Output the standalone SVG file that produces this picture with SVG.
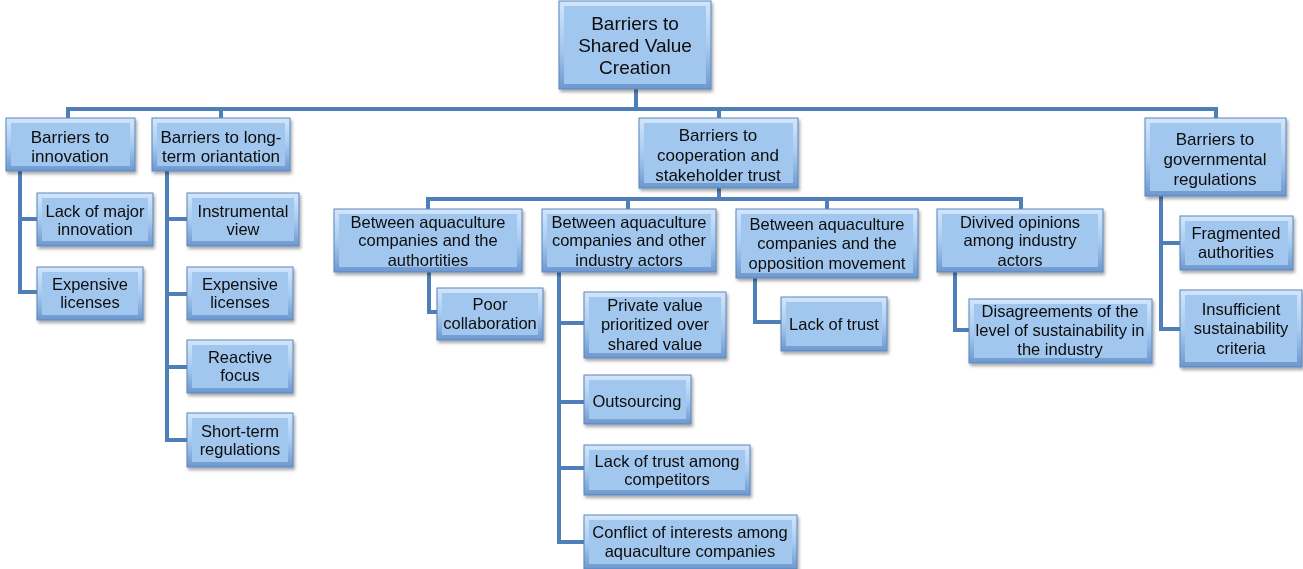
<svg xmlns="http://www.w3.org/2000/svg" width="1303" height="569" viewBox="0 0 1303 569">
<style>
.edge{fill:url(#edgeGrad);stroke:#5a86bd;stroke-width:1}
.face{fill:#a2c7ee}
.n{filter:url(#shadow)}
text{font-family:"Liberation Sans",Arial,sans-serif;fill:#0d0d0d;text-anchor:middle}
.t19{font-size:19px}
.t16{font-size:17px}
.t15{font-size:16.5px}
.conn path{fill:none;stroke:#4f7fb8;stroke-width:4}
</style>
<defs>
<linearGradient id="edgeGrad" x1="0" y1="0" x2="0" y2="1">
<stop offset="0" stop-color="#d3e6fa"/>
<stop offset="0.5" stop-color="#a9cbf0"/>
<stop offset="1" stop-color="#6d98cf"/>
</linearGradient>
<filter id="shadow" x="-10%" y="-10%" width="130%" height="140%">
<feDropShadow dx="1.5" dy="2.5" stdDeviation="1.5" flood-color="#000" flood-opacity="0.35"/>
</filter>
</defs>
<rect width="1303" height="569" fill="#fff"/>
<g class="conn" id="connectors">
<path d="M636,89 V109"/>
<path d="M68,118 V109 H1216 V118"/>
<path d="M221,109 V118"/>
<path d="M719,109 V118"/>
<path d="M20,171 V292 H37"/>
<path d="M20,219 H37"/>
<path d="M167,171 V440 H187"/>
<path d="M167,219 H187"/>
<path d="M167,294 H187"/>
<path d="M167,367 H187"/>
<path d="M719,188 V199"/>
<path d="M428,209 V199 H1021 V209"/>
<path d="M628,199 V209"/>
<path d="M827,199 V209"/>
<path d="M429,272 V312 H437"/>
<path d="M559,272 V542 H584"/>
<path d="M559,323 H584"/>
<path d="M559,402 H584"/>
<path d="M559,468 H584"/>
<path d="M755,278 V322 H781"/>
<path d="M955,272 V330 H969"/>
<path d="M1161,196 V329 H1180"/>
<path d="M1161,243 H1180"/>
</g>
<g id="root" class="n"><rect class="edge" x="559" y="1" width="152" height="88"/><rect class="face" x="564" y="6" width="142" height="78"/>
<text class="t19" x="635" y="30">Barriers to</text><text class="t19" x="635" y="52">Shared Value</text><text class="t19" x="635" y="74">Creation</text></g>
<g id="innovation" class="n"><rect class="edge" x="6" y="118" width="129" height="53"/><rect class="face" x="11" y="123" width="119" height="43"/>
<text class="t16" x="70" y="143">Barriers to</text><text class="t16" x="70" y="162">innovation</text></g>
<g id="longterm" class="n"><rect class="edge" x="152" y="118" width="138" height="53"/><rect class="face" x="157" y="123" width="128" height="43"/>
<text class="t16" x="221" y="143">Barriers to long-</text><text class="t16" x="221" y="162">term oriantation</text></g>
<g id="cooperation" class="n"><rect class="edge" x="639" y="118" width="159" height="70"/><rect class="face" x="644" y="123" width="149" height="60"/>
<text class="t16" x="718" y="141">Barriers to</text><text class="t16" x="718" y="161">cooperation and</text><text class="t16" x="718" y="181">stakeholder trust</text></g>
<g id="governmental" class="n"><rect class="edge" x="1145" y="118" width="141" height="78"/><rect class="face" x="1150" y="123" width="131" height="68"/>
<text class="t16" x="1215" y="145">Barriers to</text><text class="t16" x="1215" y="165">governmental</text><text class="t16" x="1215" y="185">regulations</text></g>
<g id="lackmajor" class="n"><rect class="edge" x="37" y="193" width="116" height="53"/><rect class="face" x="42" y="198" width="106" height="43"/>
<text class="t15" x="95" y="217">Lack of major</text><text class="t15" x="95" y="235">innovation</text></g>
<g id="expensive1" class="n"><rect class="edge" x="37" y="267" width="106" height="53"/><rect class="face" x="42" y="272" width="96" height="43"/>
<text class="t15" x="90" y="290">Expensive</text><text class="t15" x="90" y="308">licenses</text></g>
<g id="instrumental" class="n"><rect class="edge" x="187" y="193" width="112" height="53"/><rect class="face" x="192" y="198" width="102" height="43"/>
<text class="t15" x="243" y="217">Instrumental</text><text class="t15" x="243" y="235">view</text></g>
<g id="expensive2" class="n"><rect class="edge" x="187" y="267" width="106" height="53"/><rect class="face" x="192" y="272" width="96" height="43"/>
<text class="t15" x="240" y="290">Expensive</text><text class="t15" x="240" y="308">licenses</text></g>
<g id="reactive" class="n"><rect class="edge" x="187" y="340" width="106" height="53"/><rect class="face" x="192" y="345" width="96" height="43"/>
<text class="t15" x="240" y="363">Reactive</text><text class="t15" x="240" y="381">focus</text></g>
<g id="shortterm" class="n"><rect class="edge" x="187" y="413" width="106" height="54"/><rect class="face" x="192" y="418" width="96" height="44"/>
<text class="t15" x="240" y="437">Short-term</text><text class="t15" x="240" y="455">regulations</text></g>
<g id="authorities" class="n"><rect class="edge" x="334" y="209" width="188" height="63"/><rect class="face" x="339" y="214" width="178" height="53"/>
<text class="t15" x="428" y="228">Between aquaculture</text><text class="t15" x="428" y="246">companies and the</text><text class="t15" x="428" y="266">authortities</text></g>
<g id="otheractors" class="n"><rect class="edge" x="542" y="209" width="174" height="63"/><rect class="face" x="547" y="214" width="164" height="53"/>
<text class="t15" x="629" y="228">Between aquaculture</text><text class="t15" x="629" y="246">companies and other</text><text class="t15" x="629" y="266">industry actors</text></g>
<g id="opposition" class="n"><rect class="edge" x="736" y="209" width="182" height="69"/><rect class="face" x="741" y="214" width="172" height="59"/>
<text class="t15" x="827" y="230">Between aquaculture</text><text class="t15" x="827" y="249">companies and the</text><text class="t15" x="827" y="269">opposition movement</text></g>
<g id="divived" class="n"><rect class="edge" x="937" y="209" width="166" height="63"/><rect class="face" x="942" y="214" width="156" height="53"/>
<text class="t15" x="1020" y="228">Divived opinions</text><text class="t15" x="1020" y="246">among industry</text><text class="t15" x="1020" y="266">actors</text></g>
<g id="poorcollab" class="n"><rect class="edge" x="437" y="288" width="106" height="52"/><rect class="face" x="442" y="293" width="96" height="42"/>
<text class="t15" x="490" y="310">Poor</text><text class="t15" x="490" y="329">collaboration</text></g>
<g id="privatevalue" class="n"><rect class="edge" x="584" y="292" width="142" height="66"/><rect class="face" x="589" y="297" width="132" height="56"/>
<text class="t15" x="655" y="311">Private value</text><text class="t15" x="655" y="330">prioritized over</text><text class="t15" x="655" y="350">shared value</text></g>
<g id="outsourcing" class="n"><rect class="edge" x="584" y="375" width="107" height="49"/><rect class="face" x="589" y="380" width="97" height="39"/>
<text class="t15" x="637" y="407">Outsourcing</text></g>
<g id="lacktrustcomp" class="n"><rect class="edge" x="584" y="445" width="166" height="50"/><rect class="face" x="589" y="450" width="156" height="40"/>
<text class="t15" x="667" y="467">Lack of trust among</text><text class="t15" x="667" y="485">competitors</text></g>
<g id="conflict" class="n"><rect class="edge" x="584" y="515" width="213" height="54"/><rect class="face" x="589" y="520" width="203" height="44"/>
<text class="t15" x="690" y="538">Conflict of interests among</text><text class="t15" x="690" y="557">aquaculture companies</text></g>
<g id="lacktrust" class="n"><rect class="edge" x="781" y="297" width="106" height="54"/><rect class="face" x="786" y="302" width="96" height="44"/>
<text class="t15" x="834" y="330">Lack of trust</text></g>
<g id="disagreements" class="n"><rect class="edge" x="969" y="299" width="183" height="64"/><rect class="face" x="974" y="304" width="173" height="54"/>
<text class="t15" x="1060" y="317">Disagreements of the</text><text class="t15" x="1060" y="336">level of sustainability in</text><text class="t15" x="1060" y="355">the industry</text></g>
<g id="fragmented" class="n"><rect class="edge" x="1180" y="216" width="113" height="54"/><rect class="face" x="1185" y="221" width="103" height="44"/>
<text class="t15" x="1236" y="239">Fragmented</text><text class="t15" x="1236" y="258">authorities</text></g>
<g id="insufficient" class="n"><rect class="edge" x="1180" y="290" width="122" height="77"/><rect class="face" x="1185" y="295" width="112" height="67"/>
<text class="t15" x="1241" y="315">Insufficient</text><text class="t15" x="1241" y="334">sustainability</text><text class="t15" x="1241" y="354">criteria</text></g>
</svg>
